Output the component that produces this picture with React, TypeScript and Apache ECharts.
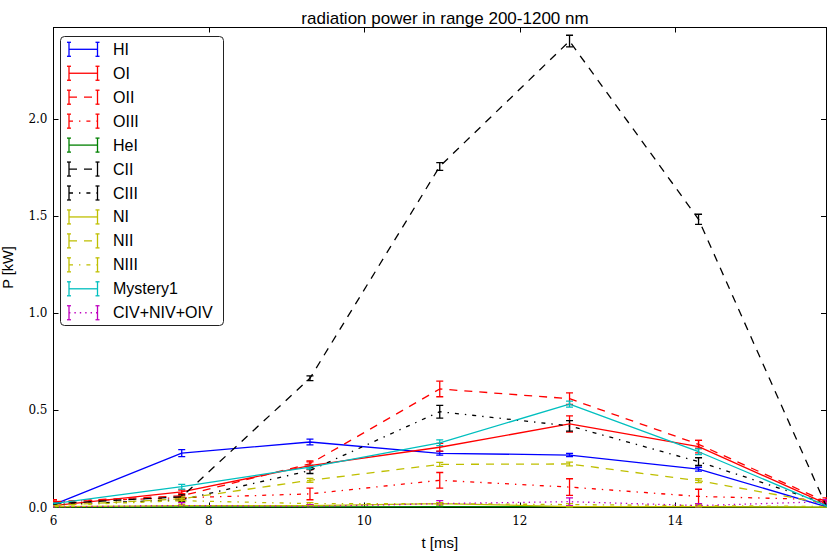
import React, { useEffect, useRef } from "react";
import * as echarts from "echarts";

// time points [ms]
const T = [6.0, 7.65, 9.3, 10.97, 12.64, 14.3, 15.94];

// radiation power [kW] and symmetric errors
const HI = [0.015, 0.28, 0.337, 0.279, 0.27, 0.197, 0.005];
const HI_ERR = [0.005, 0.018, 0.015, 0.01, 0.008, 0.01, 0.005];
const OI = [0.01, 0.08, 0.215, 0.31, 0.43, 0.313, 0.02];
const OI_ERR = [0.005, 0.01, 0.02, 0.02, 0.042, 0.032, 0.005];
const OII = [0.03, 0.06, 0.225, 0.61, 0.56, 0.325, 0.03];
const OII_ERR = [0.01, 0.01, 0.015, 0.04, 0.03, 0.02, 0.01];
const OIII = [0.03, 0.05, 0.07, 0.14, 0.105, 0.057, 0.04];
const OIII_ERR = [0.01, 0.01, 0.03, 0.04, 0.043, 0.037, 0.01];
const HEI = [0.002, 0.003, 0.003, 0.004, 0.004, 0.005, 0.001];
const HEI_ERR = [0.003, 0.003, 0.003, 0.003, 0.003, 0.003, 0.003];
const CII = [0.02, 0.055, 0.665, 1.755, 2.4, 1.483, 0.01];
const CII_ERR = [0.005, 0.01, 0.012, 0.02, 0.03, 0.026, 0.005];
const CIII = [0.015, 0.04, 0.19, 0.493, 0.42, 0.236, 0.02];
const CIII_ERR = [0.005, 0.008, 0.015, 0.033, 0.027, 0.02, 0.005];
const NI = [0.005, 0.01, 0.01, 0.02, 0.005, 0.005, 0.002];
const NI_ERR = [0.004, 0.005, 0.005, 0.005, 0.004, 0.004, 0.003];
const NII = [0.01, 0.045, 0.14, 0.222, 0.224, 0.138, 0.02];
const NII_ERR = [0.005, 0.01, 0.01, 0.01, 0.01, 0.01, 0.005];
const NIII = [0.01, 0.035, 0.02, 0.02, 0.015, 0.01, 0.005];
const NIII_ERR = [0.005, 0.01, 0.005, 0.005, 0.005, 0.005, 0.004];
const MYSTERY1 = [0.02, 0.107, 0.208, 0.333, 0.532, 0.287, 0.01];
const MYSTERY1_ERR = [0.005, 0.012, 0.01, 0.015, 0.015, 0.015, 0.005];
const CIV = [0.003, 0.01, 0.005, 0.02, 0.03, 0.01, 0.03];
const CIV_ERR = [0.005, 0.015, 0.01, 0.015, 0.02, 0.01, 0.01];

const NAMES = ["HI", "OI", "OII", "OIII", "HeI", "CII", "CIII", "NI", "NII", "NIII", "Mystery1", "CIV+NIV+OIV"];
const VALUES = [HI, OI, OII, OIII, HEI, CII, CIII, NI, NII, NIII, MYSTERY1, CIV];
const ERRORS = [HI_ERR, OI_ERR, OII_ERR, OIII_ERR, HEI_ERR, CII_ERR, CIII_ERR, NI_ERR, NII_ERR, NIII_ERR, MYSTERY1_ERR, CIV_ERR];
const COLORS = ["#0000ff", "#ff0000", "#ff0000", "#ff0000", "#008000", "#000000", "#000000", "#bfbf00", "#bfbf00", "#bfbf00", "#00bfbf", "#bf00bf"];
const STYLES = ["solid", "solid", "dashed", "dashdot", "solid", "dashed", "dashdot", "solid", "dashed", "dashdot", "solid", "dotted"];

const Y_TICKS = [0, 0.5, 1.0, 1.5, 2.0];
const X_TICKS = [6, 8, 10, 12, 14];

const X_MIN = 6;
const X_MAX = 15.94;
const Y_MIN = 0;
const Y_MAX = 2.47;

const LW = 1.3;

function dashOf(s: string): any {
  if (s === "dashed") return [8, 7];
  if (s === "dashdot") return [4, 6, 1.4, 6];
  if (s === "dotted") return [1.4, 4];
  return "solid";
}
function dashArr(s: string): any {
  const d = dashOf(s);
  return d === "solid" ? null : d;
}

export default function App() {
  const ref = useRef<HTMLDivElement>(null);
  useEffect(() => {
    if (!ref.current) return;
    const chart = echarts.init(ref.current, null, { renderer: "svg" });

    const series: any[] = [];
    NAMES.forEach((name, k) => {
      const color = COLORS[k];
      series.push({
        name,
        type: "line",
        data: T.map((t, i) => [t, VALUES[k][i]]),
        symbol: "none",
        lineStyle: { color, width: LW, type: dashOf(STYLES[k]) },
        itemStyle: { color },
        clip: true,
        silent: true,
      });
      series.push({
        name: name + " err",
        type: "custom",
        clip: true,
        silent: true,
        data: T.map((t, i) => [t, VALUES[k][i] - ERRORS[k][i], VALUES[k][i] + ERRORS[k][i]]),
        renderItem: (params: any, api: any) => {
          const x = api.value(0);
          const p1 = api.coord([x, api.value(2)]);
          const p2 = api.coord([x, api.value(1)]);
          const w = 3.5;
          const style = { stroke: color, lineWidth: LW, fill: "none" };
          return {
            type: "group",
            children: [
              { type: "line", shape: { x1: p1[0], y1: p1[1], x2: p2[0], y2: p2[1] }, style },
              { type: "line", shape: { x1: p1[0] - w, y1: p1[1], x2: p1[0] + w, y2: p1[1] }, style },
              { type: "line", shape: { x1: p2[0] - w, y1: p2[1], x2: p2[0] + w, y2: p2[1] }, style },
            ],
          };
        },
      });
    });

    // legend drawn as graphic elements (errorbar handles)
    const graphic: any[] = [];
    const lx = 60.5, ly = 36.5, lw = 163, lh = 289;
    graphic.push({
      type: "rect",
      z: 100,
      shape: { x: lx, y: ly, width: lw, height: lh, r: 4 },
      style: { fill: "#ffffff", stroke: "#222222", lineWidth: 1 },
    });
    NAMES.forEach((name, k) => {
      const y = 49.3 + 23.95 * k;
      const color = COLORS[k];
      const x1 = 69, x2 = 97.5;
      const st = { stroke: color, lineWidth: LW, lineDash: dashArr(STYLES[k]) };
      const sb = { stroke: color, lineWidth: LW };
      graphic.push({ type: "line", z: 101, shape: { x1, y1: y, x2, y2: y }, style: st });
      [x1, x2].forEach((xx) => {
        graphic.push({ type: "line", z: 101, shape: { x1: xx, y1: y - 7, x2: xx, y2: y + 7 }, style: sb });
        graphic.push({ type: "line", z: 101, shape: { x1: xx - 2, y1: y - 7, x2: xx + 2, y2: y - 7 }, style: sb });
        graphic.push({ type: "line", z: 101, shape: { x1: xx - 2, y1: y + 7, x2: xx + 2, y2: y + 7 }, style: sb });
      });
      graphic.push({
        type: "text",
        z: 101,
        x: 113,
        y,
        style: {
          text: name,
          fontSize: 16,
          fontFamily: "Liberation Sans",
          fill: "#000000",
          verticalAlign: "middle",
          align: "left",
        },
      });
    });

    const xLabelFmt = (v: number) => (X_TICKS.some((t) => Math.abs(t - v) < 1e-6) ? String(v) : "");
    const yLabelFmt = (v: number) => (Y_TICKS.some((t) => Math.abs(t - v) < 1e-6) ? v.toFixed(1) : "");

    const axisLine = { show: true, onZero: false, lineStyle: { color: "#000000", width: 1 } };
    const axisTick = { show: true, inside: true, length: 5, lineStyle: { color: "#000000", width: 1 } };

    chart.setOption({
      animation: false,
      backgroundColor: "#ffffff",
      title: {
        text: "radiation power in range 200-1200 nm",
        left: 440,
        top: 5,
        textAlign: "center",
        textStyle: { fontSize: 17, fontWeight: "normal", fontFamily: "Liberation Sans", color: "#000000" },
      },
      grid: { left: 53.5, right: 11, top: 27.5, bottom: 44.5, containLabel: false, outerBoundsMode: "none" },
      xAxis: [
        {
          type: "value",
          position: "bottom",
          min: X_MIN,
          max: X_MAX,
          interval: 2,
          axisLine,
          axisTick,
          splitLine: { show: false },
          axisLabel: {
            formatter: xLabelFmt,
            color: "#000000",
            fontFamily: "DejaVu Serif",
            fontSize: 12,
            margin: 7,
          },
          name: "t [ms]",
          nameLocation: "middle",
          nameGap: 27,
          nameTextStyle: { fontFamily: "Liberation Sans", fontSize: 15, color: "#000000" },
        },
        {
          type: "value",
          position: "top",
          min: X_MIN,
          max: X_MAX,
          interval: 2,
          axisLine,
          axisTick,
          splitLine: { show: false },
          axisLabel: { show: false },
        },
      ],
      yAxis: [
        {
          type: "value",
          position: "left",
          min: Y_MIN,
          max: Y_MAX,
          interval: 0.5,
          axisLine,
          axisTick,
          splitLine: { show: false },
          axisLabel: {
            formatter: yLabelFmt,
            color: "#000000",
            fontFamily: "DejaVu Serif",
            fontSize: 12,
            margin: 6,
          },
          name: "P [kW]",
          nameLocation: "middle",
          nameGap: 38,
          nameTextStyle: { fontFamily: "Liberation Sans", fontSize: 14.5, color: "#000000", lineHeight: 15 },
        },
        {
          type: "value",
          position: "right",
          min: Y_MIN,
          max: Y_MAX,
          interval: 0.5,
          axisLine,
          axisTick,
          splitLine: { show: false },
          axisLabel: { show: false },
        },
      ],
      series,
      graphic,
    });
    return () => chart.dispose();
  }, []);
  return (
    <div
      ref={ref}
      style={{ position: "fixed", left: 0, top: 0, width: 837, height: 552, background: "#ffffff" }}
    />
  );
}
